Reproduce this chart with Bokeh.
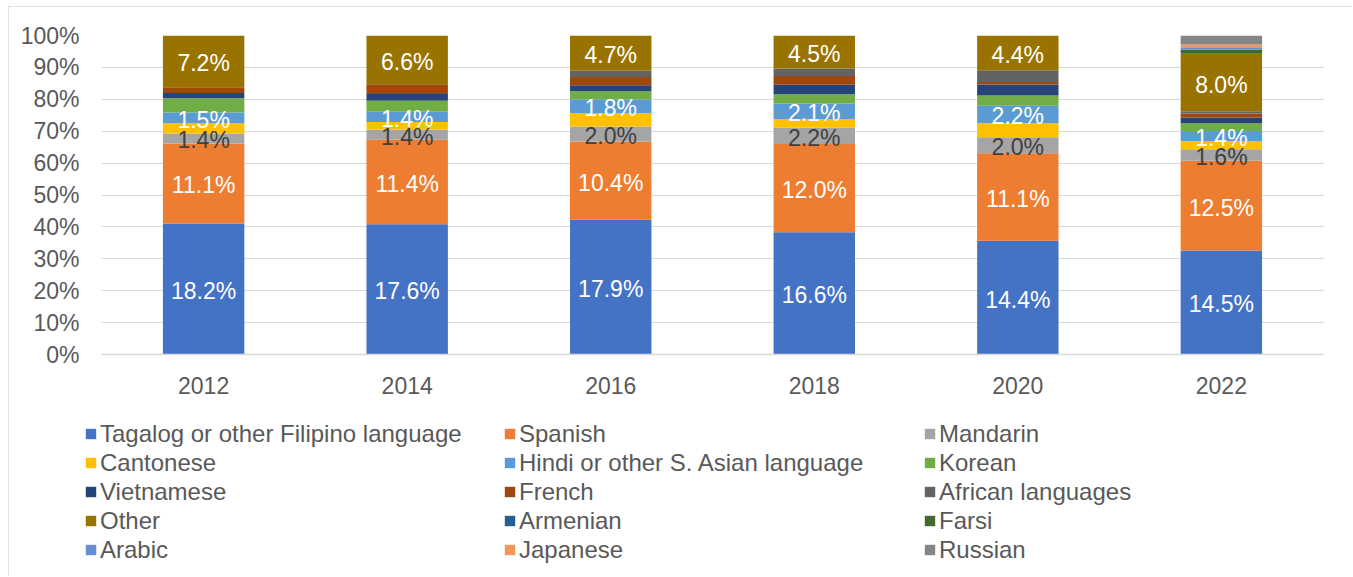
from bokeh.plotting import figure
from bokeh.models import (FactorRange, Range1d, FixedTicker, NumeralTickFormatter,
                          Legend, LegendItem, ColumnDataSource)
from bokeh.embed import file_html
from bokeh.resources import INLINE
from bokeh.core.properties import value

years = ["2012", "2014", "2016", "2018", "2020", "2022"]

languages = ["Tagalog or other Filipino language", "Spanish", "Mandarin",
             "Cantonese", "Hindi or other S. Asian language", "Korean",
             "Vietnamese", "French", "African languages",
             "Other", "Armenian", "Farsi",
             "Arabic", "Japanese", "Russian"]

colors = ["#4472C4", "#ED7D31", "#A5A5A5",
          "#FFC000", "#5B9BD5", "#70AD47",
          "#264478", "#9E480E", "#636363",
          "#997300", "#255E91", "#43682B",
          "#698ED0", "#F1975A", "#858585"]

# raw values (percent) per year
tagalog = [18.2, 17.6, 17.9, 16.6, 14.4, 14.5]
spanish = [11.1, 11.4, 10.4, 12.0, 11.1, 12.5]
mandarin = [1.4, 1.4, 2.0, 2.2, 2.0, 1.6]
cantonese = [1.4, 1.0, 1.8, 1.2, 1.8, 1.15]
hindi = [1.5, 1.4, 1.8, 2.1, 2.2, 1.4]
korean = [2.0, 1.5, 1.1, 1.25, 1.3, 1.07]
vietnamese = [0.7, 0.9, 0.8, 1.3, 1.4, 0.8]
french = [0.8, 1.3, 1.1, 1.2, 0.3, 0.55]
african = [0.0, 0.0, 0.8, 1.0, 1.5, 0.32]
other = [7.2, 6.6, 4.7, 4.5, 4.4, 8.0]
armenian = [0.0, 0.0, 0.0, 0.0, 0.0, 0.1]
farsi = [0.0, 0.0, 0.0, 0.0, 0.0, 0.46]
arabic = [0.0, 0.0, 0.0, 0.0, 0.0, 0.37]
japanese = [0.0, 0.0, 0.0, 0.0, 0.0, 0.37]
russian = [0.0, 0.0, 0.0, 0.0, 0.0, 1.25]

series = [tagalog, spanish, mandarin, cantonese, hindi, korean, vietnamese,
          french, african, other, armenian, farsi, arabic, japanese, russian]

# series that carry data labels, and label colours
labelled = {0: "white", 1: "white", 2: "#404040", 4: "white", 9: "white"}

FONT = "Liberation Sans"
TXT = "#595959"

totals = [sum(s[i] for s in series) for i in range(len(years))]
keys = [f"s{k}" for k in range(len(series))]
data = {"year": years}
for k, s in zip(keys, series):
    data[k] = [v / t for v, t in zip(s, totals)]
src = ColumnDataSource(data)

# frame extends below the axis so that the legend (inside the frame) is not clipped
W, H = 1344, 570
TOP, ZERO_Y, BOT = 29, 348, 565
y_start = -(BOT - ZERO_Y) / (ZERO_Y - TOP)

p = figure(x_range=FactorRange(*years, range_padding=0.1, range_padding_units="absolute"),
           y_range=Range1d(y_start, 1),
           width=W, height=H, output_backend="svg", toolbar_location=None,
           min_border_left=73, min_border_right=9, min_border_top=TOP,
           min_border_bottom=H - BOT)
p.styles = {"margin-left": "8px", "margin-top": "6px",
            "outline": "1px solid #d9d9d9", "outline-offset": "-1px"}

renderers = p.vbar_stack(keys, x="year", width=0.4, color=colors, source=src,
                         line_color=None)

# data labels
for idx, col in labelled.items():
    mids = []
    for i in range(len(years)):
        below = sum(data[keys[j]][i] for j in range(idx))
        mids.append(below + data[keys[idx]][i] / 2)
    texts = [f"{v:.1f}%" for v in series[idx]]
    p.text(x=years, y=mids, text=texts, text_align="center", text_baseline="middle",
           y_offset=2, text_font=value(FONT), text_font_size="23px", text_color=col)

# axes and grid
p.outline_line_color = None
p.xgrid.grid_line_color = None
p.ygrid.grid_line_color = "#d9d9d9"
p.ygrid.grid_line_width = 1
p.ygrid.cross_bounds = (0, 6)
p.yaxis.ticker = FixedTicker(ticks=[i / 10 for i in range(11)])
p.yaxis.formatter = NumeralTickFormatter(format="0%")
p.yaxis.axis_line_color = None
p.yaxis.major_tick_line_color = None
p.yaxis.minor_tick_line_color = None
p.yaxis.major_tick_out = 0
p.yaxis.major_label_standoff = 2
p.xaxis.fixed_location = 0
p.xaxis.bounds = (0, 6)
p.xaxis.axis_line_color = "#d9d9d9"
p.xaxis.axis_line_width = 1.5
p.xaxis.major_tick_line_color = None
p.xaxis.major_label_standoff = 16
for ax in (p.xaxis, p.yaxis):
    ax.major_label_text_font = FONT
    ax.major_label_text_font_size = "23px"
    ax.major_label_text_color = TXT

# legend: three columns
items = [LegendItem(label=lang, renderers=[r]) for lang, r in zip(languages, renderers)]
for c, xloc in enumerate([3, 422, 842]):
    leg = Legend(items=items[c::3], location=(xloc, 7.5), orientation="vertical",
                 label_text_font=FONT, label_text_font_size="24px",
                 label_text_color=TXT, glyph_width=13, glyph_height=13,
                 label_height=27, label_standoff=3, spacing=1, padding=0, margin=0,
                 border_line_color=None, background_fill_alpha=0)
    p.add_layout(leg, "center")

open("out.html", "w").write(file_html(p, INLINE))
